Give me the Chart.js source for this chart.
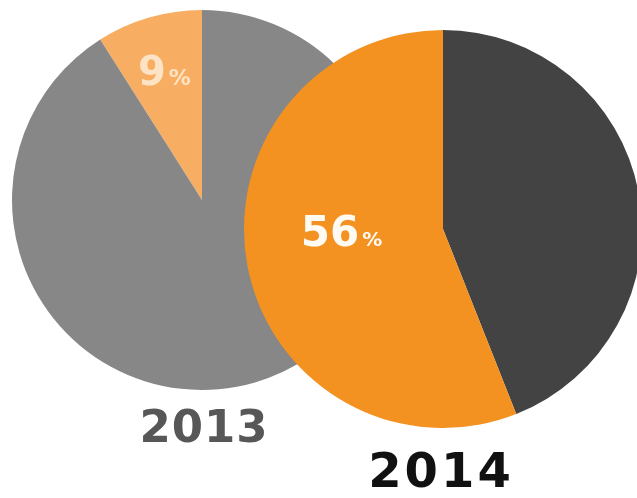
<!DOCTYPE html>
<html>
<head>
<meta charset="utf-8">
<script src="https://cdn.jsdelivr.net/npm/chart.js@4/dist/chart.umd.min.js"></script>
<style>
  html, body { margin: 0; padding: 0; background: #fff; width: 637px; height: 498px; overflow: hidden; }
  .pie { position: absolute; }
  #pie2013 { left: 12px; top: 10px; width: 380px; height: 380px; }
  #pie2014 { left: 244px; top: 30px; width: 398px; height: 398px; }
  .year { position: absolute; width: 240px; text-align: center; font-family: 'DejaVu Sans', sans-serif; font-weight: bold; line-height: 1; }
  #y2013 { left: 84px; top: 404px; font-size: 45px; letter-spacing: 1px; color: #575757; }
  #y2014 { left: 321px; top: 446px; font-size: 48px; letter-spacing: 3px; color: #111; }
</style>
</head>
<body>
<div class="pie" id="pie2013"><canvas id="c2013"></canvas></div>
<div class="pie" id="pie2014"><canvas id="c2014"></canvas></div>
<div class="year" id="y2013">2013</div>
<div class="year" id="y2014">2014</div>
<script>
// share values, in percent, starting from 12 o'clock
const labels2013 = ['Highlighted', 'Other'];
const values2013 = [9, 91];
const labels2014 = ['Other', 'Highlighted'];
const values2014 = [44, 56];

// draws "NN%" on the highlighted slice, with a smaller % sign
const pctLabel = {
  id: 'pctLabel',
  afterDatasetsDraw(chart, args, opts) {
    const arc = chart.getDatasetMeta(0).data[opts.index];
    const value = chart.data.datasets[0].data[opts.index];
    const mid = (arc.startAngle + arc.endAngle) / 2 + (opts.shift || 0);
    const r = arc.outerRadius * opts.frac;
    const x = arc.x + Math.cos(mid) * r;
    const y = arc.y + Math.sin(mid) * r;
    const ctx = chart.ctx;
    const bigFont = `bold ${opts.size}px "DejaVu Sans", sans-serif`;
    const smallFont = `bold ${opts.pctSize}px "DejaVu Sans", sans-serif`;
    ctx.save();
    ctx.fillStyle = opts.color;
    ctx.textBaseline = 'alphabetic';
    const num = String(value);
    ctx.font = bigFont;
    const wNum = ctx.measureText(num).width;
    ctx.font = smallFont;
    const wPct = ctx.measureText('%').width;
    const left = x - (wNum + wPct + 3) / 2;
    const base = y + opts.size * 0.36;
    ctx.font = bigFont;
    ctx.fillText(num, left, base);
    ctx.font = smallFont;
    ctx.fillText('%', left + wNum + 3, base);
    ctx.restore();
  },
};

function makePie(canvasId, labels, values, colors, rotation, labelOpts) {
  return new Chart(document.getElementById(canvasId), {
    type: 'pie',
    data: {
      labels: labels,
      datasets: [{
        data: values,
        backgroundColor: colors,
        borderWidth: 0,
      }],
    },
    options: {
      responsive: true,
      maintainAspectRatio: false,
      animation: false,
      rotation: rotation,
      layout: { padding: 0 },
      plugins: {
        legend: { display: false },
        tooltip: { enabled: false },
        pctLabel: labelOpts,
      },
    },
    plugins: [pctLabel],
  });
}

// 2013 slice sits to the left of 12 o'clock
makePie('c2013', labels2013, values2013, ['#f8ae62', '#878787'], -values2013[0] * 3.6,
  { index: 0, frac: 0.71, size: 40, pctSize: 22, color: '#fde3c6' });
makePie('c2014', labels2014, values2014, ['#434343', '#f39221'], 0,
  { index: 1, frac: 0.51, shift: 0.17, size: 42, pctSize: 20, color: '#fffaf2' });
</script>
</body>
</html>
